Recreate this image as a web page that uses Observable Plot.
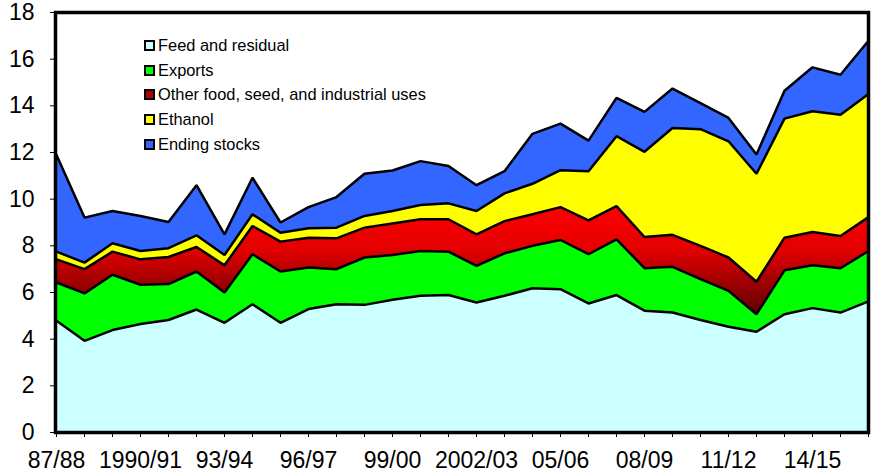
<!DOCTYPE html>
<html><head><meta charset="utf-8">
<script src="https://cdn.jsdelivr.net/npm/d3@7"></script>
<script src="https://cdn.jsdelivr.net/npm/@observablehq/plot@0.6"></script>
<style>
body{margin:0;background:#fff;}
#wrap{position:relative;width:875px;height:474px;font-family:"Liberation Sans",Arial,sans-serif;overflow:hidden;}
#legend{position:absolute;left:144px;top:33px;font-size:16.4px;color:#000;}
.item{display:flex;align-items:center;height:24.7px;white-space:nowrap;}
.sw{width:7px;height:7px;border:2px solid #000;margin-right:3px;flex:none;}
</style></head><body>
<div id="wrap"><div id="chart"></div><div id="legend"></div></div>
<script>
const seasons = ["1987/88","1988/89","1989/90","1990/91","1991/92","1992/93","1993/94","1994/95","1995/96","1996/97",
  "1997/98","1998/99","1999/00","2000/01","2001/02","2002/03","2003/04","2004/05","2005/06","2006/07",
  "2007/08","2008/09","2009/10","2010/11","2011/12","2012/13","2013/14","2014/15","2015/16","2016/17"];
const tickSeasons = ["1987/88","1990/91","1993/94","1996/97","1999/00","2002/03","2005/06","2008/09","2011/12","2014/15"];
const tickLabels = ["87/88","1990/91","93/94","96/97","99/00","2002/03","05/06","08/09","11/12","14/15"];
const yTicks = [0,2,4,6,8,10,12,14,16,18];

const seriesNames = ["Feed and residual","Exports","Other food, seed, and industrial uses","Ethanol","Ending stocks"];
const seriesColors = ["#ccffff","#00ff00","url(#redGrad)","#ffff00","#3366ff"];
const legendColors = ["#ccffff","#00ff00","#b00000","#ffff00","#3366ff"];

const feed = [4.79,3.93,4.39,4.65,4.82,5.27,4.70,5.50,4.70,5.29,5.50,5.47,5.69,5.86,5.89,5.57,5.86,6.18,6.14,5.53,5.89,5.22,5.14,4.82,4.53,4.32,5.07,5.33,5.14,5.62];
const exportsV = [1.64,2.03,2.37,1.68,1.54,1.63,1.30,2.14,2.20,1.78,1.50,2.03,1.92,1.92,1.86,1.57,1.82,1.82,2.11,2.11,2.39,1.82,1.96,1.75,1.54,0.75,1.88,1.84,1.90,2.16];
const otherFSI = [0.99,1.04,0.99,1.09,1.16,1.05,1.17,1.21,1.28,1.28,1.32,1.28,1.35,1.36,1.39,1.35,1.38,1.35,1.41,1.45,1.42,1.34,1.37,1.43,1.43,1.39,1.40,1.42,1.38,1.45];
const ethanol = [0.33,0.28,0.36,0.36,0.38,0.50,0.44,0.50,0.38,0.40,0.46,0.50,0.53,0.61,0.68,1.00,1.19,1.31,1.58,2.11,3.00,3.65,4.58,5.00,4.98,4.63,5.10,5.18,5.20,5.28];
const endingStocks = [4.14,1.93,1.38,1.50,1.12,2.15,0.88,1.57,0.44,0.91,1.31,1.81,1.74,1.88,1.60,1.11,0.95,2.14,2.00,1.31,1.64,1.71,1.69,1.12,1.00,0.82,1.20,1.88,1.71,2.28];

const seriesValues = [feed, exportsV, otherFSI, ethanol, endingStocks];
const rows = [];
seriesNames.forEach((s, k) => seasons.forEach((season, i) => rows.push({season, series: s, value: seriesValues[k][i]})));
const tickMap = new Map(tickSeasons.map((s, i) => [s, tickLabels[i]]));

const svg = Plot.plot({
  width: 875, height: 474,
  marginLeft: 55, marginRight: 7, marginTop: 12, marginBottom: 42,
  style: {fontFamily: "'Liberation Sans', Arial, sans-serif", background: "white", color: "black", overflow: "visible"},
  x: {type: "point", domain: seasons, padding: 0},
  y: {domain: [0, 18]},
  color: {domain: seriesNames, range: seriesColors},
  marks: [
    Plot.areaY(rows, {x: "season", y: "value", z: "series", fill: "series", order: seriesNames}),
    Plot.lineY(rows, Plot.stackY2({x: "season", y: "value", z: "series", order: seriesNames, stroke: "black", strokeWidth: 2.5, strokeLinejoin: "miter"})),
    Plot.axisY({ticks: yTicks, tickSize: 5, tickPadding: 16, fontSize: 23, label: null, strokeWidth: 1}),
    Plot.axisX({ticks: seasons, tickSize: 5, tickPadding: 14, fontSize: 23, label: null, tickFormat: d => tickMap.get(d) ?? ""}),
    Plot.frame({stroke: "black", strokeWidth: 3.5})
  ]
});

const defs = d3.select(svg).insert("defs", ":first-child");
const grad = defs.append("linearGradient").attr("id", "redGrad").attr("x1", 0).attr("y1", 0).attr("x2", 0).attr("y2", 1);
grad.append("stop").attr("offset", "0%").attr("stop-color", "#ff0000");
grad.append("stop").attr("offset", "40%").attr("stop-color", "#e40000");
grad.append("stop").attr("offset", "100%").attr("stop-color", "#600000");

document.getElementById("chart").appendChild(svg);

const legend = d3.select("#legend");
seriesNames.forEach((s, k) => {
  const it = legend.append("div").attr("class", "item");
  it.append("div").attr("class", "sw").style("background", legendColors[k]);
  it.append("span").text(s);
});
</script>
</body></html>
